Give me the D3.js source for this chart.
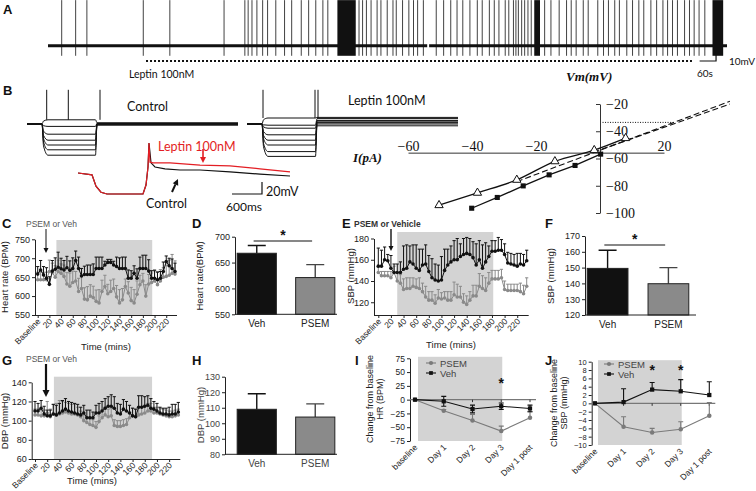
<!DOCTYPE html>
<html>
<head>
<meta charset="utf-8">
<script src="https://cdnjs.cloudflare.com/ajax/libs/d3/7.8.5/d3.min.js"></script>
<style>
  body { margin: 0; background: #fff; }
  svg { display: block; }
</style>
</head>
<body>
<svg id="fig" width="756" height="491"></svg>
<script>
// ---------- panel A: spontaneous firing ----------
const spikeTimesA = [50, 101, 142, 348, 445, 643, 719, 731, 745, 763, 784, 802, 832, 864, 890, 925, 952, 978, 1004, 1022,
  1136, 1149, 1163, 1180, 1202, 1216, 1239, 1260, 1272, 1295, 1318, 1335, 1350, 1371, 1418, 1445, 1471, 1494, 1515, 1541,
  1568, 1586, 1612, 1630, 1647, 1670, 1683, 1700, 1709, 1718, 1730, 1741, 1753, 1765, 1814, 1837, 1867, 1894, 1911, 1929,
  1955, 1973, 2008, 2029, 2047, 2070, 2087, 2114, 2135, 2158, 2176, 2202, 2223, 2246, 2263, 2281, 2299, 2325, 2343, 2360,
  2378, 2399];
const burstsA = [[1057, 1124], [1776, 1797], [2427, 2466]];
const traceSegmentsA = [[0, 1385], [1392, 2480]];
const leptinPeriodA = [358, 2352];

// ---------- panel B: step families, overlay, I-V ----------
const ctrlLevels = [-53, -64, -77, -87, -95, -103, -112];
const ctrlAfter = [-58, -59, -60, -60, -61, -62, -59];
const lepLevels = [-50, -62, -67, -78, -87, -95, -106, -114];
const lepAfter = [-49, -51, -54, -55, -57, -58, -60, -63];
const ctrlSpikes = [394, 826, 1460];
const lepSpikes = [320, 1360, 1420];
const overlayLeptin = [[0, -60], [280, -63], [360, -82], [460, -92], [580, -95], [1300, -95], [1360, -80], [1400, -50],
  [1420, -10], [1440, -42], [1500, -43], [1840, -43], [2440, -47], [3040, -48], [3640, -53], [4240, -58]];
const overlayControl = [[0, -60], [280, -63], [360, -82], [460, -92], [580, -95], [1300, -95], [1360, -80], [1400, -50],
  [1420, -10], [1460, -43], [1540, -50], [1740, -53], [2040, -55], [2440, -55], [3040, -58], [3640, -62], [4240, -65]];

const ivLeptin = [[-50.3, -94.3], [-38.3, -85.2], [-26, -75.7], [-14.1, -62.1], [-1.8, -53.9], [8, -45.1]];
const ivControl = [[-40.1, -96.5], [-32.1, -88.6], [-24, -80.1], [-15.9, -72], [-7.8, -65.1], [0.2, -56.8]];
const ivFits = [[[-26, -77], [40.6, -18]], [[-2, -55.3], [40.6, -20]]];
const ivXTicks = [-60, -40, -20, 20];
const ivYTicks = [-20, -40, -60, -80, -100];
const ivDotted = -33.5;

// ---------- panels C, E, G: time course ----------
const timeMins = [0, 5, 10, 15, 20, 25, 30, 35, 40, 45, 50, 55, 60, 65, 70, 75, 80, 85, 90, 95, 100, 105, 110, 115,
  120, 125, 130, 135, 140, 145, 150, 155, 160, 165, 170, 175, 180, 185, 190, 195, 200, 205, 210, 215, 220, 225, 230, 235];
const timeTickValues = [0, 20, 40, 60, 80, 100, 120, 140, 160, 180, 200, 220];
const timeTickLabels = ["Baseline", "20", "40", "60", "80", "100", "120", "140", "160", "180", "200", "220"];

const hrVeh = [658, 669, 656, 647, 631, 666, 671, 676, 672, 669, 675, 668, 673, 694, 673, 653, 657, 657, 657, 657,
  673, 673, 673, 682, 689, 689, 682, 678, 673, 673, 673, 647, 647, 660, 647, 673, 673, 673, 666, 647,
  647, 643, 647, 665, 691, 680, 673, 665];
const hrVehErr = [20, 25, 22, 28, 20, 28, 30, 40, 28, 25, 30, 25, 28, 25, 30, 20, 22, 25, 25, 28, 30, 30, 30, 10,
  8, 8, 10, 25, 28, 30, 30, 22, 20, 20, 25, 30, 35, 35, 30, 20, 20, 20, 18, 25, 15, 20, 25, 22];
const hrPsem = [643, 643, 643, 643, 665, 662, 650, 665, 660, 652, 632, 626, 636, 640, 612, 620, 592, 590, 600, 596,
  586, 582, 612, 625, 606, 612, 620, 598, 582, 590, 625, 608, 588, 582, 605, 630, 640, 600, 632, 636,
  640, 630, 640, 650, 652, 655, 660, 658];
const hrPsemErr = [20, 20, 20, 20, 30, 25, 30, 30, 25, 30, 30, 35, 30, 25, 35, 35, 30, 35, 30, 30, 30, 35, 30, 30,
  25, 30, 25, 30, 35, 30, 20, 30, 35, 35, 35, 25, 20, 30, 25, 25, 30, 35, 30, 25, 30, 40, 50, 35];

const sbpVeh = [154, 154, 160, 159, 152, 148, 148, 148, 151, 152, 158, 156, 152, 150, 155, 156, 149, 143, 141, 140,
  141, 150, 155, 158, 160, 160, 163, 165, 166, 165, 162, 155, 160, 152, 158, 163, 168, 168, 169, 169,
  165, 157, 156, 155, 154, 156, 155, 159];
const sbpVehErr = [17, 15, 12, 6, 12, 8, 8, 10, 22, 22, 15, 18, 22, 20, 15, 18, 15, 18, 15, 15, 22, 20, 15, 15,
  18, 20, 12, 15, 15, 15, 15, 20, 18, 22, 18, 10, 10, 10, 12, 10, 10, 10, 10, 10, 12, 10, 10, 10];
const sbpPsem = [148, 145, 145, 145, 143, 148, 140, 138, 132, 133, 133, 135, 134, 133, 130, 125, 122, 122, 119, 124,
  123, 124, 122, 122, 127, 125, 125, 120, 118, 122, 126, 126, 135, 133, 131, 138, 142, 142, 142, 143,
  132, 131, 131, 131, 131, 130, 128, 135];
const sbpPsemErr = [5, 4, 4, 4, 6, 6, 8, 8, 10, 10, 10, 8, 8, 10, 8, 10, 8, 8, 8, 8, 6, 6, 8, 8,
  12, 12, 10, 8, 8, 8, 10, 10, 12, 12, 12, 10, 8, 8, 8, 8, 8, 6, 6, 6, 6, 8, 8, 8];

const dbpVeh = [110, 110, 113, 107, 105, 105, 107, 106, 108, 110, 112, 110, 109, 108, 107, 106, 108, 103, 103, 103,
  108, 108, 110, 113, 115, 115, 113, 108, 107, 112, 110, 108, 105, 104, 114, 114, 115, 116, 113, 112,
  110, 108, 107, 107, 106, 107, 107, 109];
const dbpVehErr = [10, 8, 8, 8, 6, 6, 10, 10, 10, 11, 11, 10, 10, 10, 10, 8, 8, 8, 8, 6, 8, 10, 10, 10,
  10, 12, 12, 10, 10, 10, 10, 8, 8, 8, 12, 12, 10, 10, 10, 8, 8, 6, 6, 6, 8, 10, 10, 10];
const dbpPsem = [106, 106, 105, 105, 108, 104, 107, 106, 107, 108, 109, 108, 107, 107, 106, 104, 100, 98, 96, 95,
  93, 99, 103, 106, 104, 105, 95, 94, 94, 95, 96, 103, 105, 104, 106, 107, 108, 110, 110, 108,
  108, 107, 106, 105, 104, 104, 105, 106];
const dbpPsemErr = [6, 6, 6, 6, 12, 8, 10, 12, 14, 12, 10, 10, 10, 10, 8, 6, 6, 6, 6, 6, 6, 6, 8, 8,
  8, 8, 6, 6, 6, 6, 6, 6, 8, 8, 8, 8, 8, 8, 8, 6, 6, 6, 6, 6, 6, 6, 6, 6];

// ---------- panels D, F, H: group means ----------
const groups = ["Veh", "PSEM"];
const hrMeans = [668, 621];
const hrErrs = [15, 25];
const sbpMeans = [149.5, 139.8];
const sbpErrs = [11.5, 10.2];
const dbpMeans = [109, 104];
const dbpErrs = [10, 8.5];

// ---------- panels I, J: change from baseline ----------
const days = ["baseline", "Day 1", "Day 2", "Day 3", "Day 1 post"];
const hrChangePsem = [0, -20, -38, -57, -33];
const hrChangePsemErr = [0, 2, 11, 9, 11];
const hrChangeVeh = [0, -3, -17, -12, -16];
const hrChangeVehErr = [0, 9, 7, 6, 6];
const sbpChangePsem = [0, -5.6, -7, -6.2, -3];
const sbpChangePsemErr = [0, 2.4, 1, 1.8, 3.2];
const sbpChangeVeh = [0, 0.3, 3.3, 2.9, 2.0];
const sbpChangeVehErr = [0, 3.2, 1.7, 2.8, 3.2];

// ---------- drawing ----------
const svg = d3.select("#fig");
const sans = '"Liberation Sans", Arial, sans-serif';
const serif = '"Liberation Serif", "Times New Roman", serif';
const calibri = 'Lato, "Open Sans", sans-serif';
const grey = "#8a8a8a";
const shadeGrey = "#d3d3d3";
const ink = "#111";

const addText = (x, y, str, opts = {}) =>
  svg.append("text")
    .attr("x", x).attr("y", y)
    .attr("text-anchor", opts.anchor || "start")
    .attr("fill", opts.fill || ink)
    .style("font-family", opts.font || sans)
    .style("font-size", (opts.size || 9) + "px")
    .style("font-weight", opts.weight || "normal")
    .style("font-style", opts.style || "normal")
    .text(str);

const addVText = (x, y, str, size = 9.5, fill = "#222") =>
  svg.append("text")
    .attr("transform", `translate(${x},${y}) rotate(-90)`)
    .attr("text-anchor", "middle")
    .attr("fill", fill)
    .style("font-family", sans)
    .style("font-size", size + "px")
    .text(str);

const drawArrow = (x1, y1, x2, y2, color, w, h) => {
  const ang = Math.atan2(y2 - y1, x2 - x1);
  const bx = x2 - h * Math.cos(ang), by = y2 - h * Math.sin(ang);
  svg.append("line").attr("x1", x1).attr("y1", y1).attr("x2", bx).attr("y2", by)
    .attr("stroke", color).attr("stroke-width", w);
  const px = -Math.sin(ang) * h * 0.5, py = Math.cos(ang) * h * 0.5;
  svg.append("path").attr("d", `M${x2},${y2}L${bx + px},${by + py}L${bx - px},${by - py}Z`).attr("fill", color);
};

const styleAxis = (sel, size = 9, fill = "#222") => {
  sel.selectAll("text").style("font-family", sans).style("font-size", size + "px").attr("fill", fill);
  sel.selectAll("line,path").attr("stroke", "#222");
};

const panelLabel = (t, x, y) => addText(x, y, t, { weight: "bold", size: 13 });

// ---- A ----
const drawPanelA = () => {
  const xA = d3.scaleLinear().domain([0, 2480]).range([48, 727]);
  const yA = d3.scaleLinear().domain([-80, 0]).range([64, -9]);
  const rest = -60, peak = -10, trough = -71;
  const g = svg.append("g");
  g.selectAll(".seg").data(traceSegmentsA).join("line")
    .attr("x1", d => xA(d[0])).attr("x2", d => xA(d[1]))
    .attr("y1", yA(rest)).attr("y2", yA(rest))
    .attr("stroke", ink).attr("stroke-width", 3);
  g.selectAll(".spk").data(spikeTimesA).join("line")
    .attr("x1", d => xA(d)).attr("x2", d => xA(d))
    .attr("y1", yA(trough)).attr("y2", yA(peak))
    .attr("stroke", ink).attr("stroke-width", 0.8);
  g.selectAll(".burst").data(burstsA).join("rect")
    .attr("x", d => xA(d[0])).attr("width", d => xA(d[1]) - xA(d[0]))
    .attr("y", yA(peak)).attr("height", yA(trough) - yA(peak))
    .attr("fill", ink);
  g.append("line")
    .attr("x1", xA(leptinPeriodA[0])).attr("x2", xA(leptinPeriodA[1]))
    .attr("y1", 61).attr("y2", 61)
    .attr("stroke", ink).attr("stroke-width", 2).attr("stroke-dasharray", "2,2");
  // scale bar 60 s / 10 mV
  g.append("path")
    .attr("d", `M${xA(2380)},61H${xA(2440)}V${61 - (yA(-70) - yA(-60))}`)
    .attr("fill", "none").attr("stroke", ink).attr("stroke-width", 1.2);
  addText(729, 65, "10mV", { font: calibri, size: 10 });
  addText(697, 77, "60s", { font: calibri, size: 10 });
  addText(129, 78, "Leptin 100nM", { font: calibri, size: 10.5 });
  panelLabel("A", 3, 14);
};

// ---- B ----
const drawFamily = (xs, levels, after, spikes) => {
  const yF = d3.scaleLinear().domain([-120, 0]).range([160, 88]);
  const line = d3.line().x(d => xs(d[0])).y(d => yF(d[1])).curve(d3.curveMonotoneX);
  levels.forEach((L, i) => {
    const pts = [[0, -60], [300, -60], [330, -60 + (L + 60) * 0.7], [420, L], [1370, L], [1400, after[i]], [4220, after[i]]];
    svg.append("path").attr("d", line(pts)).attr("fill", "none").attr("stroke", ink).attr("stroke-width", 1);
  });
  svg.selectAll(null).data(spikes).join("line")
    .attr("x1", d => xs(d)).attr("x2", d => xs(d))
    .attr("y1", yF(levels[0])).attr("y2", yF(-3))
    .attr("stroke", ink).attr("stroke-width", 1);
};

const drawPanelB = () => {
  const xCtrl = d3.scaleLinear().domain([0, 4220]).range([27, 238]);
  const xLep = d3.scaleLinear().domain([0, 4220]).range([247, 458]);
  drawFamily(xCtrl, ctrlLevels, ctrlAfter, ctrlSpikes);
  drawFamily(xLep, lepLevels, lepAfter, lepSpikes);
  addText(127, 111, "Control", { font: calibri, size: 12.5 });
  addText(348, 105, "Leptin 100nM", { font: calibri, size: 12.5 });

  const xOv = d3.scaleLinear().domain([0, 4240]).range([78, 290]);
  const yOv = d3.scaleLinear().domain([-120, 0]).range([209, 137]);
  const ovLine = d3.line().x(d => xOv(d[0])).y(d => yOv(d[1]));
  svg.append("path").attr("d", ovLine(overlayControl)).attr("fill", "none").attr("stroke", ink).attr("stroke-width", 1.2);
  svg.append("path").attr("d", ovLine(overlayLeptin)).attr("fill", "none").attr("stroke", "#e31e24").attr("stroke-width", 1.2);
  addText(158, 151, "Leptin 100nM", { font: calibri, size: 12.5, fill: "#e31e24" });
  drawArrow(203, 149, 203, 163, "#e31e24", 1.6, 6);
  drawArrow(172, 192, 178, 179, ink, 2, 6);
  addText(146, 208, "Control", { font: calibri, size: 12.5 });
  // scale bar 600 ms / 20 mV
  svg.append("path")
    .attr("d", `M${xOv(3080)},194H${xOv(3680)}V${194 - (yOv(-80) - yOv(-60))}`)
    .attr("fill", "none").attr("stroke", ink).attr("stroke-width", 1.2);
  addText(266, 196, "20mV", { font: calibri, size: 12.5 });
  addText(226, 211, "600ms", { font: calibri, size: 12 });

  // I-V relation
  const xIV = d3.scaleLinear().domain([-60, 20]).range([408, 664]);
  const yIV = d3.scaleLinear().domain([-100, -20]).range([213, 104]);
  const cross = -55.7;
  const vAxis = svg.append("g").attr("transform", `translate(${xIV(0)},0)`)
    .call(d3.axisLeft(yIV).tickValues(ivYTicks).tickSize(4).tickSizeOuter(0));
  vAxis.selectAll("text").attr("x", 6).attr("text-anchor", "start")
    .style("font-family", serif).style("font-size", "14px").attr("fill", ink);
  vAxis.selectAll("line,path").attr("stroke", "#333");
  const hAxis = svg.append("g").attr("transform", `translate(0,${yIV(cross)})`)
    .call(d3.axisTop(xIV).tickValues(ivXTicks).tickSize(0).tickSizeOuter(0).tickPadding(2));
  hAxis.selectAll("text").style("font-family", serif).style("font-size", "14px").attr("fill", ink);
  hAxis.selectAll("path").attr("stroke", "#333");
  svg.append("line").attr("x1", xIV(0.8)).attr("x2", xIV(22.5))
    .attr("y1", yIV(ivDotted)).attr("y2", yIV(ivDotted))
    .attr("stroke", ink).attr("stroke-dasharray", "1,1.5");
  svg.selectAll(".fit").data(ivFits).join("line")
    .attr("x1", d => xIV(d[0][0])).attr("y1", d => yIV(d[0][1]))
    .attr("x2", d => xIV(d[1][0])).attr("y2", d => yIV(d[1][1]))
    .attr("stroke", ink).attr("stroke-width", 1.1).attr("stroke-dasharray", "6,3");
  svg.append("path")
    .attr("d", d3.line().x(d => xIV(d[0])).y(d => yIV(d[1])).curve(d3.curveMonotoneX)(ivLeptin))
    .attr("fill", "none").attr("stroke", ink).attr("stroke-width", 1.3);
  svg.append("path")
    .attr("d", d3.line().x(d => xIV(d[0])).y(d => yIV(d[1]))(ivControl))
    .attr("fill", "none").attr("stroke", ink).attr("stroke-width", 1.3);
  svg.selectAll(".tri").data(ivLeptin).join("path")
    .attr("d", d3.symbol(d3.symbolTriangle, 30))
    .attr("transform", d => `translate(${xIV(d[0])},${yIV(d[1])})`)
    .attr("fill", "#fff").attr("stroke", ink).attr("stroke-width", 1);
  svg.selectAll(".sq").data(ivControl).join("path")
    .attr("d", d3.symbol(d3.symbolSquare, 26))
    .attr("transform", d => `translate(${xIV(d[0])},${yIV(d[1])})`)
    .attr("fill", ink);
  addText(566, 81, "Vm(mV)", { font: serif, size: 13, weight: "bold", style: "italic" });
  addText(353, 162, "I(pA)", { font: serif, size: 13, weight: "bold", style: "italic" });
  panelLabel("B", 3, 95);
};

// ---- time-course panels ----
const drawSeries = (g, x, y, vals, errs, color) => {
  const pts = timeMins.map((t, i) => ({ t, v: vals[i], e: errs[i] }));
  g.append("g").selectAll("path").data(pts).join("path")
    .attr("d", d => `M${x(d.t)},${y(d.v)}V${y(d.v + d.e)}M${x(d.t) - 1.6},${y(d.v + d.e)}h3.2`)
    .attr("stroke", color).attr("fill", "none").attr("stroke-width", 1);
  g.append("path").datum(pts)
    .attr("d", d3.line().x(d => x(d.t)).y(d => y(d.v)))
    .attr("stroke", color).attr("fill", "none").attr("stroke-width", 1);
  g.append("g").selectAll("circle").data(pts).join("circle")
    .attr("cx", d => x(d.t)).attr("cy", d => y(d.v)).attr("r", 1.8).attr("fill", color);
};

const drawTimeCourse = cfg => {
  const x = d3.scaleLinear().domain([0, 235]).range(cfg.xRange);
  const y = d3.scaleLinear().domain(cfg.yDomain).range(cfg.yRange);
  const g = svg.append("g");
  g.append("rect")
    .attr("x", x(cfg.shade[0])).attr("width", x(cfg.shade[1]) - x(cfg.shade[0]))
    .attr("y", cfg.shadeTop).attr("height", cfg.yRange[0] - cfg.shadeTop)
    .attr("fill", shadeGrey);
  g.append("g").attr("transform", `translate(${cfg.axisX},0)`)
    .call(d3.axisLeft(y).tickValues(cfg.yTicks).tickSize(3).tickSizeOuter(0).tickPadding(2))
    .call(styleAxis);
  const xa = g.append("g").attr("transform", `translate(0,${cfg.yRange[0]})`)
    .call(d3.axisBottom(x).tickValues(timeTickValues).tickFormat((d, i) => timeTickLabels[i]).tickSize(3))
    .call(s => styleAxis(s, 8.5));
  xa.select(".domain").attr("d", `M${cfg.axisX},0.5H${x(235) + 2}`);
  xa.selectAll("text").attr("y", 0).attr("dy", 0).attr("text-anchor", "end")
    .attr("transform", "translate(3,7) rotate(-45)");
  drawSeries(g, x, y, cfg.psem, cfg.psemErr, grey);
  drawSeries(g, x, y, cfg.veh, cfg.vehErr, ink);
  addText(cfg.timeLabel[0], cfg.timeLabel[1], "Time (mins)", { size: 9.5, anchor: "middle", fill: "#222" });
  addVText(cfg.yLabel[0], cfg.yLabel[1], cfg.yTitle);
};

// ---- bar panels ----
const drawBars = cfg => {
  const x = d3.scaleBand().domain(groups).range(cfg.xRange).paddingInner(0.33).paddingOuter(0.02);
  const y = d3.scaleLinear().domain(cfg.yDomain).range(cfg.yRange);
  const g = svg.append("g");
  const rows = groups.map((k, i) => ({ k, m: cfg.means[i], e: cfg.errs[i] }));
  g.selectAll(".err").data(rows).join("path")
    .attr("d", d => {
      const cx = x(d.k) + x.bandwidth() / 2;
      return `M${cx},${y(d.m)}V${y(d.m + d.e)}M${cx - 9},${y(d.m + d.e)}h18`;
    })
    .attr("stroke", (d, i) => i ? "#444" : ink).attr("stroke-width", 1.4).attr("fill", "none");
  g.selectAll(".bar").data(rows).join("rect")
    .attr("x", d => x(d.k)).attr("width", x.bandwidth())
    .attr("y", d => y(d.m)).attr("height", d => cfg.yRange[0] - y(d.m))
    .attr("fill", (d, i) => i ? grey : ink).attr("stroke", "#222").attr("stroke-width", 1);
  g.append("g").attr("transform", `translate(${cfg.axisX},0)`)
    .call(d3.axisLeft(y).tickValues(cfg.yTicks).tickSize(3).tickSizeOuter(0).tickPadding(2))
    .call(s => styleAxis(s, 9, cfg.tickFill || "#222"));
  g.append("line").attr("x1", cfg.axisX).attr("x2", cfg.axisEnd)
    .attr("y1", cfg.yRange[0]).attr("y2", cfg.yRange[0]).attr("stroke", "#222");
  rows.forEach(d => addText(x(d.k) + x.bandwidth() / 2, cfg.yRange[0] + 13, d.k,
    { size: 10, anchor: "middle", fill: cfg.tickFill || "#222" }));
  if (cfg.sig) {
    const y0 = cfg.sig;
    g.append("line").attr("x1", x("Veh") + x.bandwidth() * 0.42).attr("x2", x("PSEM") + x.bandwidth() * 0.42)
      .attr("y1", y0).attr("y2", y0).attr("stroke", ink).attr("stroke-width", 1.2);
    addText((x("Veh") + x("PSEM")) / 2 + x.bandwidth() * 0.42, y0 - 1, "*", { size: 14, weight: "bold", anchor: "middle" });
  }
  addVText(cfg.yLabel[0], cfg.yLabel[1], cfg.yTitle, 9.5, cfg.tickFill || "#222");
};

// ---- change-from-baseline panels ----
const drawChange = cfg => {
  const x = d3.scalePoint().domain(days).range(cfg.xRange);
  const y = d3.scaleLinear().domain(cfg.yDomain).range(cfg.yRange);
  const g = svg.append("g");
  g.append("rect")
    .attr("x", x(days[0]) + 3).attr("width", x(days[3]) - x(days[0]) - 2)
    .attr("y", cfg.yRange[1] - 1.5).attr("height", cfg.yRange[0] - cfg.yRange[1] + 1.5)
    .attr("fill", shadeGrey);
  g.append("g").attr("transform", `translate(${cfg.axisX},0)`)
    .call(d3.axisLeft(y).tickValues(cfg.yTicks).tickSize(3).tickSizeOuter(0).tickPadding(2))
    .call(s => styleAxis(s, cfg.tickSize));
  g.append("line").attr("x1", cfg.axisX).attr("x2", x(days[4]) + 6)
    .attr("y1", y(0)).attr("y2", y(0)).attr("stroke", "#777").attr("stroke-width", 1.3);
  g.selectAll(".tk").data(days.slice(1)).join("line")
    .attr("x1", d => x(d)).attr("x2", d => x(d)).attr("y1", y(0)).attr("y2", y(0) + 2.5)
    .attr("stroke", "#333");
  days.forEach(d => svg.append("text")
    .attr("transform", `translate(${x(d) + 3},${cfg.yRange[0] + 7}) rotate(-45)`)
    .attr("text-anchor", "end").attr("fill", "#222")
    .style("font-family", sans).style("font-size", "8.5px").text(d));

  const series = (vals, errs, color, both, sym) => {
    const pts = days.map((d, i) => ({ d, v: vals[i], e: errs[i] }));
    g.append("g").selectAll("path").data(pts.filter(p => p.e > 0)).join("path")
      .attr("d", p => {
        const cx = x(p.d), top = y(p.v + p.e), bot = both ? y(p.v - p.e) : y(p.v);
        return `M${cx},${bot}V${top}M${cx - 2.5},${top}h5` + (both ? `M${cx - 2.5},${bot}h5` : "");
      })
      .attr("stroke", color).attr("stroke-width", 1.1).attr("fill", "none");
    g.append("path").datum(pts).attr("d", d3.line().x(p => x(p.d)).y(p => y(p.v)))
      .attr("stroke", color).attr("stroke-width", 1.1).attr("fill", "none");
    g.append("g").selectAll("path").data(pts).join("path")
      .attr("d", d3.symbol(sym, sym === d3.symbolSquare ? 18 : 16))
      .attr("transform", p => `translate(${x(p.d)},${y(p.v)})`).attr("fill", color);
  };
  series(cfg.psem, cfg.psemErr, "#7a7a7a", false, d3.symbolCircle);
  series(cfg.veh, cfg.vehErr, ink, cfg.vehBoth, d3.symbolSquare);

  const lx = cfg.legend[0], ly = cfg.legend[1];
  [["PSEM", "#7a7a7a", d3.symbolCircle], ["Veh", ink, d3.symbolSquare]].forEach((r, i) => {
    g.append("line").attr("x1", lx).attr("x2", lx + 10).attr("y1", ly + i * 10).attr("y2", ly + i * 10)
      .attr("stroke", r[1]).attr("stroke-width", 1.1);
    g.append("path").attr("d", d3.symbol(r[2], 14)).attr("transform", `translate(${lx + 5},${ly + i * 10})`).attr("fill", r[1]);
    addText(lx + 14, ly + i * 10 + 3.5, r[0], { size: 9.5, fill: "#444" });
  });
  cfg.stars.forEach(s => addText(x(s[0]), y(s[1]) + 5, "*", { size: 14, weight: "bold", anchor: "middle" }));
  addVText(cfg.yLabel[0], cfg.yLabel[2], "Change from baseline", 9);
  addVText(cfg.yLabel[1], cfg.yLabel[2], cfg.yTitle, 9);
};

drawPanelA();
drawPanelB();

// C
panelLabel("C", 2, 228);
addText(26, 227, "PSEM or Veh", { size: 8.5, fill: "#555" });
drawTimeCourse({
  xRange: [37.7, 175], yDomain: [550, 750], yRange: [315, 239.3], yTicks: [550, 600, 650, 700, 750],
  axisX: 35, shade: [32, 196], shadeTop: 240,
  veh: hrVeh, vehErr: hrVehErr, psem: hrPsem, psemErr: hrPsemErr,
  timeLabel: [106, 350], yLabel: [8, 277], yTitle: "Heart rate (BPM)"
});
drawArrow(46, 229, 46, 253, ink, 1, 5);

// D
panelLabel("D", 192, 228);
drawBars({
  xRange: [236, 336], yDomain: [550, 700], yRange: [314.3, 236.7], yTicks: [550, 600, 650, 700],
  axisX: 235, axisEnd: 337, means: hrMeans, errs: hrErrs, sig: 241,
  yLabel: [203, 276], yTitle: "Heart rate(BPM)"
});

// E
panelLabel("E", 342, 228);
addText(354, 227, "PSEM or Vehicle", { size: 8.5, weight: "bold", fill: "#333" });
drawTimeCourse({
  xRange: [378.3, 526.7], yDomain: [108, 180], yRange: [315, 238.5], yTicks: [120, 140, 160, 180],
  axisX: 374, shade: [30, 182], shadeTop: 232,
  veh: sbpVeh, vehErr: sbpVehErr, psem: sbpPsem, psemErr: sbpPsemErr,
  timeLabel: [451, 348], yLabel: [354, 276], yTitle: "SBP (mmHg)"
});
drawArrow(391, 229, 391, 251, ink, 1.4, 5);

// F
panelLabel("F", 545, 228);
drawBars({
  xRange: [586, 690], yDomain: [120, 170], yRange: [315, 236], yTicks: [120, 130, 140, 150, 160, 170],
  axisX: 585, axisEnd: 696, means: sbpMeans, errs: sbpErrs, sig: 245,
  yLabel: [554, 276], yTitle: "SBP (mmHg)"
});

// G
panelLabel("G", 2, 365);
addText(26, 362, "PSEM or Veh", { size: 8.5, fill: "#555" });
drawTimeCourse({
  xRange: [35, 178.3], yDomain: [60, 140], yRange: [459, 382.3], yTicks: [60, 80, 100, 120, 140],
  axisX: 31.7, shade: [31, 192], shadeTop: 376.7,
  veh: dbpVeh, vehErr: dbpVehErr, psem: dbpPsem, psemErr: dbpPsemErr,
  timeLabel: [92, 484], yLabel: [8, 421], yTitle: "DBP (mmHg)"
});
drawArrow(46, 364, 46, 397, ink, 2.2, 7);

// H
panelLabel("H", 192, 365);
drawBars({
  xRange: [236, 336], yDomain: [80, 130], yRange: [454.3, 376.7], yTicks: [80, 90, 100, 110, 120, 130],
  axisX: 225, axisEnd: 337, means: dbpMeans, errs: dbpErrs, sig: null, tickFill: "#444",
  yLabel: [204, 415], yTitle: "DBP (mmHg)"
});

// I
panelLabel("I", 355, 365);
drawChange({
  xRange: [415, 530], yDomain: [-75, 75], yRange: [441, 358.3], yTicks: [-75, -50, -25, 0, 25, 50, 75],
  axisX: 410, tickSize: 8.5, psem: hrChangePsem, psemErr: hrChangePsemErr, veh: hrChangeVeh, vehErr: hrChangeVehErr,
  vehBoth: true, legend: [426, 363], stars: [["Day 3", 30]],
  yLabel: [373, 383, 399], yTitle: "HR (BPM)"
});

// J
panelLabel("J", 545, 365);
drawChange({
  xRange: [595, 709.3], yDomain: [-10, 10], yRange: [445, 361.7],
  yTicks: [-10, -8, -6, -4, -2, 0, 2, 4, 6, 8, 10],
  axisX: 591.7, tickSize: 7.5, psem: sbpChangePsem, psemErr: sbpChangePsemErr, veh: sbpChangeVeh, vehErr: sbpChangeVehErr,
  vehBoth: false, legend: [604, 364], stars: [["Day 2", 8], ["Day 3", 8]],
  yLabel: [557, 566.5, 403], yTitle: "SBP (mmHg)"
});
</script>
</body>
</html>
